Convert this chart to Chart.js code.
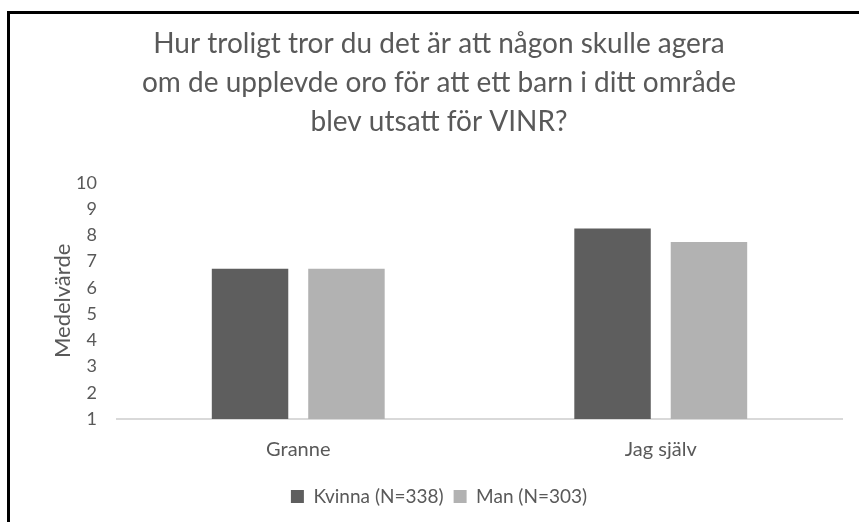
<!DOCTYPE html>
<html>
<head>
<meta charset="utf-8">
<script src="https://cdn.jsdelivr.net/npm/chart.js@4.4.1/dist/chart.umd.min.js"></script>
<style>
    html, body { margin: 0; padding: 0; background: #fff; overflow: hidden; }
    #wrap { position: relative; width: 859px; height: 522px; }
    #frame { position: absolute; left: 7px; top: 11px; width: 900px; height: 600px; border: 3px solid #000; box-sizing: border-box; }
    #chart { position: absolute; left: 0; top: 0; }
</style>
</head>
<body>
<div id="wrap">
    <div id="frame"></div>
    <canvas id="chart" width="859" height="522"></canvas>
</div>
<script>
const categories = ["Granne", "Jag själv"];
const kvinna = [6.72, 8.26];
const man = [6.72, 7.74];
const seriesNames = ["Kvinna (N=338)", "Man (N=303)"];
const titleLines = [
    "Hur troligt tror du det är att någon skulle agera",
    "om de upplevde oro för att ett barn i ditt område",
    "blev utsatt för VINR?"
];
const yMin = 1;
const yMax = 10;

const textColor = "#595959";
const fontFamily = "Lato, 'Open Sans', sans-serif";

new Chart(document.getElementById("chart"), {
    type: "bar",
    data: {
        labels: categories,
        datasets: [{
            label: seriesNames[0],
            data: kvinna,
            backgroundColor: "#5e5e5e",
            categoryPercentage: 0.532,
            barPercentage: 0.793
        },
        {
            label: seriesNames[1],
            data: man,
            backgroundColor: "#b2b2b2",
            categoryPercentage: 0.532,
            barPercentage: 0.793
        }]
    },
    options: {
        responsive: false,
        animation: false,
        layout: {
            padding: { left: 36, right: 17, top: 25, bottom: 6 }
        },
        plugins: {
            title: {
                display: true,
                text: titleLines,
                color: textColor,
                font: { family: fontFamily, size: 28, weight: "normal", lineHeight: 1.39 },
                padding: { top: 0, bottom: 41 }
            },
            legend: {
                position: "bottom",
                labels: {
                    color: textColor,
                    boxWidth: 13,
                    boxHeight: 13,
                    padding: 10,
                    font: { family: fontFamily, size: 19 }
                }
            },
            tooltip: { enabled: false }
        },
        scales: {
            x: {
                grid: { display: false, drawTicks: false },
                border: { display: true, color: "#d9d9d9", width: 2 },
                ticks: { color: textColor, padding: 19, font: { family: fontFamily, size: 20 } },
                afterFit: scale => { scale.height = 58; }
            },
            y: {
                min: yMin,
                max: yMax,
                grid: { display: false, drawTicks: false },
                border: { display: false },
                ticks: { stepSize: 1, autoSkip: false, color: textColor, padding: 20, font: { family: fontFamily, size: 18 } },
                title: {
                    display: true,
                    text: "Medelvärde",
                    color: textColor,
                    padding: { top: 14, bottom: 0 },
                    font: { family: fontFamily, size: 22 }
                },
                afterFit: scale => { scale.width = 81; }
            }
        }
    }
});
</script>
</body>
</html>
